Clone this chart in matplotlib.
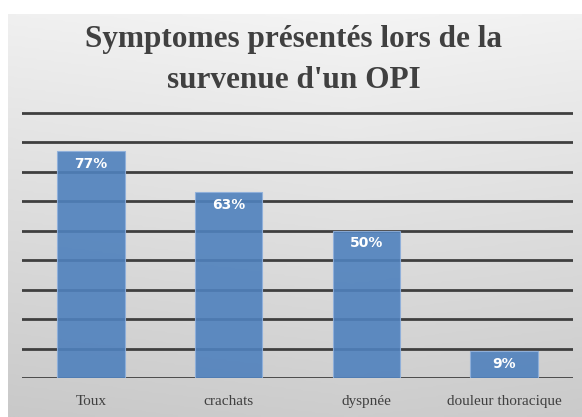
import numpy as np
import matplotlib.pyplot as plt
from matplotlib.colors import LinearSegmentedColormap

categories = ["Toux", "crachats", "dyspnée", "douleur thoracique"]
values = [77, 63, 50, 9]
labels = ["77%", "63%", "50%", "9%"]

W, H = 582, 417
fig = plt.figure(figsize=(W / 100, H / 100), dpi=100)
fig.patch.set_facecolor("white")

# gray gradient panel (white strip on top and left)
bg = fig.add_axes([8 / W, 0, 1 - 8 / W, 1 - 14 / H])
yy, xx = np.mgrid[0:1:200j, 0:1:200j]
grad = 0.85 * yy + 0.15 * (1 - np.abs(xx - 0.6))
cmap = LinearSegmentedColormap.from_list("bg", ["#c9c9c9", "#f4f4f4"])
bg.imshow(grad, cmap=cmap, aspect="auto", origin="lower", extent=[0, 1, 0, 1])
bg.set_axis_off()

fig.text(0.505, 1 - 60 / H, "Symptomes présentés lors de la\nsurvenue d'un OPI",
         ha="center", va="center", fontsize=22.5, fontweight="bold",
         family="Liberation Serif", color="#404040", linespacing=1.55)

ax = fig.add_axes([22 / W, 1 - 378 / H, (573 - 22) / W, (378 - 107) / H])
ax.patch.set_alpha(0)
x = np.arange(len(categories))
bars = ax.bar(x, values, width=0.49, color="#4f81bd", alpha=0.9,
              edgecolor="#8fb0dc", linewidth=0.8, zorder=3)
for b, lab in zip(bars, labels):
    ax.annotate(lab, (b.get_x() + b.get_width() / 2, b.get_height()),
                xytext=(0, -4), textcoords="offset points",
                ha="center", va="top", color="white", fontsize=10,
                fontweight="bold", zorder=4)

ax.set_xlim(-0.5, 3.5)
ax.set_ylim(0, 92)
ax.set_yticks(np.arange(0, 91, 10))
ax.yaxis.grid(True, color="#3f3f3f", linewidth=2.0, zorder=1)
ax.set_axisbelow(True)
ax.set_xticks(x)
ax.set_xticklabels(categories, family="Liberation Serif", fontsize=11, color="#404040")
ax.tick_params(axis="x", length=0, pad=12)
ax.tick_params(axis="y", length=0, labelleft=False)
for s in ax.spines.values():
    s.set_visible(False)

fig.savefig("out.png", dpi=100)
